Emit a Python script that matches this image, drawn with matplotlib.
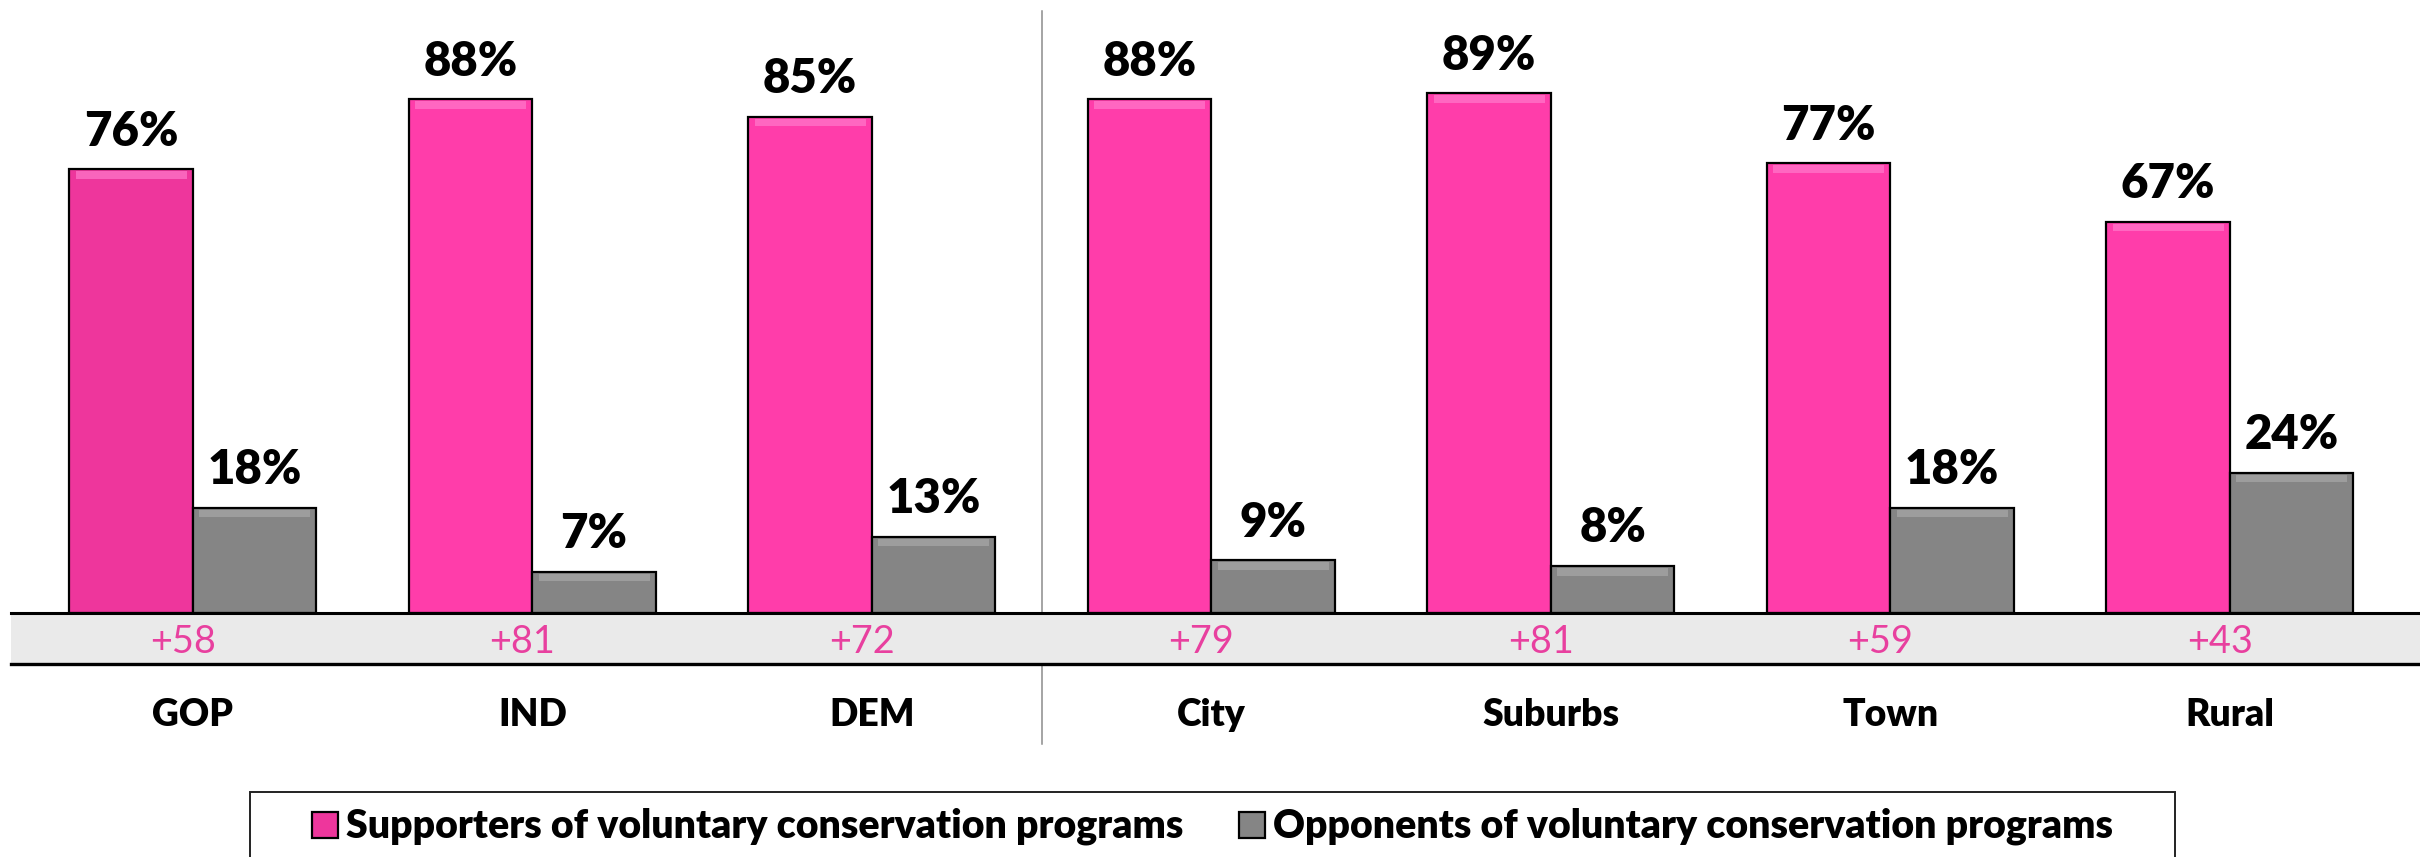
import numpy as np
import matplotlib
matplotlib.use("Agg")
import matplotlib.pyplot as plt
from matplotlib.patches import Rectangle

# ---------------- data ----------------
categories = ["GOP", "IND", "DEM", "City", "Suburbs", "Town", "Rural"]
supporters = [76, 88, 85, 88, 89, 77, 67]
opponents = [18, 7, 13, 9, 8, 18, 24]
differences = ["+58", "+81", "+72", "+79", "+81", "+59", "+43"]
series_names = ["Supporters of voluntary conservation programs",
                "Opponents of voluntary conservation programs"]

# ---------------- style ----------------
PINK = "#FF3DAA"
PINK_GOP = "#EE369C"
PINK_HI = "#FF7ACB"
GRAY = "#858585"
GRAY_HI = "#A8A8A8"
BAND = "#EAEAEA"
DIFF = "#E8409F"
FONT = "Lato"
HEAVY = "heavy"

W, H = 2420, 857
fig = plt.figure(figsize=(W / 100, H / 100), dpi=100)
fig.patch.set_facecolor("white")

ax_left, ax_bottom = 10.8 / W, 1 - 663.7 / H
ax = fig.add_axes([ax_left, ax_bottom, 1 - ax_left, 1 - ax_bottom])
ax.set_facecolor("none")

band_depth = 8.74
ax.set_ylim(-band_depth, 105.0)
ax.set_xlim(-0.5364, 6.560)

x = np.arange(len(categories))
bw = 0.3636
pink_colors = [PINK_GOP] + [PINK] * (len(categories) - 1)

bars_s = ax.bar(x - bw / 2, supporters, width=bw, color=pink_colors,
                edgecolor="black", linewidth=1.6, zorder=3,
                label=series_names[0])
bars_o = ax.bar(x + bw / 2, opponents, width=bw, color=GRAY,
                edgecolor="black", linewidth=1.6, zorder=3,
                label=series_names[1])

# subtle bevel highlight at the top of each bar
bev = 1.3
ax.bar(x - bw / 2, [bev] * len(x), bottom=np.array(supporters) - bev - 0.35,
       width=bw * 0.9, color=PINK_HI, linewidth=0, zorder=4, alpha=0.7)
ax.bar(x + bw / 2, [bev] * len(x), bottom=np.array(opponents) - bev - 0.35,
       width=bw * 0.9, color=GRAY_HI, linewidth=0, zorder=4, alpha=0.7)

# value labels
value_texts = []
for bars, vals in ((bars_s, supporters), (bars_o, opponents)):
    for rect, v in zip(bars, vals):
        t = ax.annotate(f"{v}%", (rect.get_x() + rect.get_width() / 2, v),
                        xytext=(0, 17), textcoords="offset points",
                        ha="center", va="baseline", fontsize=33,
                        fontweight=HEAVY, family=FONT, color="black",
                        zorder=5)
        value_texts.append(t)

# grey band with differences
ax.axhspan(-band_depth, 0, color=BAND, zorder=2, linewidth=0)
ax.axhline(0, color="black", linewidth=2.2, zorder=4, clip_on=False)
ax.axhline(-band_depth, color="black", linewidth=2.4, zorder=4, clip_on=False)
diff_texts = []
for xi, d in zip(x, differences):
    t = ax.text(xi - 0.03, -6.95, d, ha="center", va="baseline", fontsize=26,
                family=FONT, color=DIFF, zorder=5)
    diff_texts.append(t)

# divider between party and place groups
ax.axvline(2.5, ymin=-0.121, ymax=0.984, color="#8C8C8C", linewidth=1.1,
           zorder=1, clip_on=False)

# category labels
ax.set_xticks(x)
ax.set_xticklabels(categories, fontsize=26, fontweight=HEAVY, family=FONT)
ax.tick_params(axis="x", length=0, pad=25)
ax.set_yticks([])
for s in ax.spines.values():
    s.set_visible(False)

# legend
leg = fig.legend(handles=[bars_s, bars_o], labels=series_names, ncol=2,
                 loc="center", bbox_to_anchor=(0.501, 1 - 826 / H),
                 frameon=False, handlelength=0.75, handleheight=0.75,
                 handletextpad=0.22, columnspacing=1.6,
                 prop={"family": FONT, "weight": HEAVY, "size": 25})
fig.patches.append(Rectangle((250 / W, -0.02), (2175 - 250) / W,
                             0.02 + (857 - 792) / H,
                             transform=fig.transFigure, fill=False,
                             edgecolor="#222222", linewidth=1.4))

# ---- match the rendered text widths to the reference (pixels) ----
fig.canvas.draw()
r = fig.canvas.get_renderer()

def scale_group(texts, samples, target_px):
    w = sum(s.get_window_extent(r).width for s in samples)
    k = target_px / w
    for t in texts:
        t.set_fontsize(t.get_fontsize() * k)

scale_group(value_texts, [value_texts[0]], 94)              # "76%"
scale_group(diff_texts, [diff_texts[0]], 66)                # "+58"
ticks = ax.get_xticklabels()
scale_group(ticks, [ticks[0], ticks[4], ticks[6]], 306)     # GOP+Suburbs+Rural
scale_group(leg.get_texts(), [leg.get_texts()[0]], 838)     # legend entry

fig.savefig("out.png", dpi=100, facecolor="white")
